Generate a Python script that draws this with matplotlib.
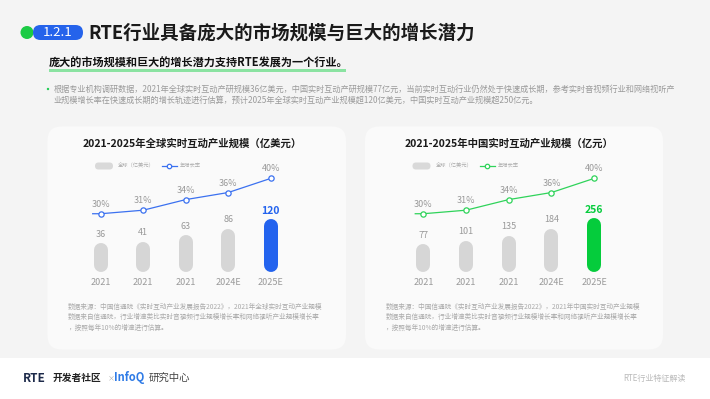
import matplotlib
matplotlib.use('Agg')
import matplotlib.pyplot as plt
from matplotlib.patches import FancyBboxPatch, Circle, Rectangle

plt.rcParams['font.family'] = ['Noto Sans CJK SC', 'DejaVu Sans']

# data
years = ['2021', '2021', '2021', '2024E', '2025E']
global_size = [36, 41, 63, 86, 120]
china_size = [77, 101, 135, 184, 256]
growth = [30, 31, 34, 36, 40]

W, H = 710, 399
fig = plt.figure(figsize=(W / 100, H / 100), dpi=100)
fig.patch.set_facecolor('white')

# full-size overlay in pixel units (y down) for the page decoration
bg = fig.add_axes([0, 0, 1, 1], zorder=0)
bg.set_xlim(0, W)
bg.set_ylim(H, 0)
bg.axis('off')

bg.add_patch(Rectangle((0, 0), W, 357.5, fc='#f4f4f4', ec='none'))

# header
bg.add_patch(Circle((27, 32.5), 6.5, fc='#1ccb45', ec='none'))
bg.add_patch(FancyBboxPatch((33, 25), 50, 15, boxstyle='round,pad=0,rounding_size=7.5',
                            fc='#2563eb', ec='none'))
bg.text(58, 32.5, '1.2.1', color='white', fontsize=9.5, ha='center', va='center')
bg.text(88, 33, 'RTE行业具备庞大的市场规模与巨大的增长潜力', fontsize=13.3,
        fontweight='bold', color='#1a1a1a', va='center')

bg.add_patch(Rectangle((49, 68.5), 297, 3, fc='#8be3a2', ec='none'))
bg.text(49, 63, '庞大的市场规模和巨大的增长潜力支持RTE发展为一个行业。', fontsize=8.0,
        fontweight='bold', color='#111111', va='center')

bg.add_patch(Circle((48, 89), 1.2, fc='#22cc55', ec='none'))
bg.text(54, 89, '根据专业机构调研数据，2021年全球实时互动产研规模36亿美元，中国实时互动产研规模77亿元，'
        '当前实时互动行业仍然处于快速成长期，参考实时音视频行业和网络视听产',
        fontsize=5.9, color='#9a9a9a', va='center')
bg.text(54, 100.5, '业规模增长率在快速成长期的增长轨迹进行估算，预计2025年全球实时互动产业规模超120亿美元，'
        '中国实时互动产业规模超250亿元。', fontsize=5.9, color='#9a9a9a', va='center')


def draw_card(x0, x1, title, lo, hi, values, color, line_color, ylim, src_lines):
    bg.add_patch(FancyBboxPatch((x0, 126.5), x1 - x0, 223,
                                boxstyle='round,pad=0,rounding_size=14',
                                fc='#fafafa', ec='none'))
    bg.text((x0 + x1) / 2 - 5, 144, title, fontsize=7.5, fontweight='bold',
            color='#1a1a1a', ha='center', va='center')

    # legend
    lx = x0 + 47.5
    bg.add_patch(FancyBboxPatch((lx, 162.5), 18, 7, boxstyle='round,pad=0,rounding_size=3.5',
                                fc='#d9d9d9', ec='none'))
    bg.text(lx + 23, 166, '全球（亿美元）', fontsize=3.8, color='#aaaaaa', va='center')
    bg.plot([lx + 67, lx + 82], [166, 166], color=line_color, lw=0.9)
    bg.plot(lx + 74, 166, 'o', ms=3.2, mfc='white', mec=line_color, mew=0.9)
    bg.text(lx + 85, 166, '年增长率', fontsize=3.8, color='#aaaaaa', va='center')

    for k, s in enumerate(src_lines):
        bg.text(x0 + 20.5, 306.7 + k * 10.5, s, fontsize=4.8, color='#aaaaaa', va='center')

    top, bottom = 160, 271.7
    ax = fig.add_axes([lo / W, (H - bottom) / H, (hi - lo) / W, (bottom - top) / H], zorder=2)
    ax.patch.set_alpha(0)
    ax.set_xlim(-0.5, 4.5)
    ax.set_ylim(*ylim)
    for sp in ax.spines.values():
        sp.set_visible(False)
    ax.set_yticks([])
    ax.set_xticks(range(len(years)), years)
    ax.tick_params(length=0, pad=4.3, labelsize=6.5, labelcolor='#999999')

    r = 7 * (ylim[1] - ylim[0]) / (bottom - top)
    last = len(values) - 1
    for i, v in enumerate(values):
        c = color if i == last else '#d6d6d6'
        ax.plot([i, i], [ylim[0] + r, v - r], color=c, lw=14 * 0.72,
                solid_capstyle='round', zorder=2)
        if i == last:
            ax.annotate(str(v), (i, v), xytext=(0, 8), textcoords='offset pixels',
                        ha='center', va='center', fontsize=7.5, fontweight='bold', color=color)
        else:
            ax.annotate(str(v), (i, v), xytext=(0, 9), textcoords='offset pixels',
                        ha='center', va='center', fontsize=6.5, color='#999999')

    ax2 = ax.twinx()
    ax2.set_ylim(13.6, 45.2)
    ax2.axis('off')
    xs = [-0.19] + list(range(len(growth)))
    ax2.plot(xs, [growth[0]] + growth, color=line_color, lw=0.9, zorder=3)
    ax2.plot(range(len(growth)), growth, 'o', ms=3.8, mfc='white', mec=line_color,
             mew=0.9, zorder=4)
    for i, g in enumerate(growth):
        ax2.annotate(f'{g}%', (i, g), xytext=(0, 9.5), textcoords='offset pixels',
                     ha='center', va='center', fontsize=6.5, color='#999999')


draw_card(47.5, 346, '2021-2025年全球实时互动产业规模（亿美元）', 79.5, 292,
          global_size, '#2363ee', '#3b71f0', (-61, 320),
          ['数据来源：中国信通院《实时互动产业发展报告2022》，2021年全球实时互动产业规模',
           '数据来自信通院，行业增速类比实时音视频行业规模增长率和网络视听产业规模增长率',
           '，按照每年10%的增速进行估算。'])
draw_card(365, 663, '2021-2025年中国实时互动产业规模（亿元）', 402, 615.5,
          china_size, '#05cc3c', '#2fd35a', (-115, 662),
          ['数据来源：中国信通院《实时互动产业发展报告2022》，2021年中国实时互动产业规模',
           '数据来自信通院，行业增速类比实时音视频行业规模增长率和网络视听产业规模增长率',
           '，按照每年10%的增速进行估算。'])

# footer
bg.text(23, 378, 'RTE', fontsize=8.5, fontweight='bold', color='#1d2a4a', va='center')
bg.text(53, 378, '开发者社区', fontsize=7, fontweight='bold', color='#222222', va='center')
bg.text(107.5, 378, '×', fontsize=5, color='#aaaaaa', va='center')
bg.text(114, 378, 'InfoQ', fontsize=8, fontweight='bold', color='#2f7be6', va='center')
bg.text(149, 378, '研究中心', fontsize=7.5, color='#444444', va='center')
bg.text(623, 378, 'RTE行业特征解读', fontsize=5.8, color='#bbbbbb', va='center')

fig.savefig('out.png', dpi=100, facecolor='white')
